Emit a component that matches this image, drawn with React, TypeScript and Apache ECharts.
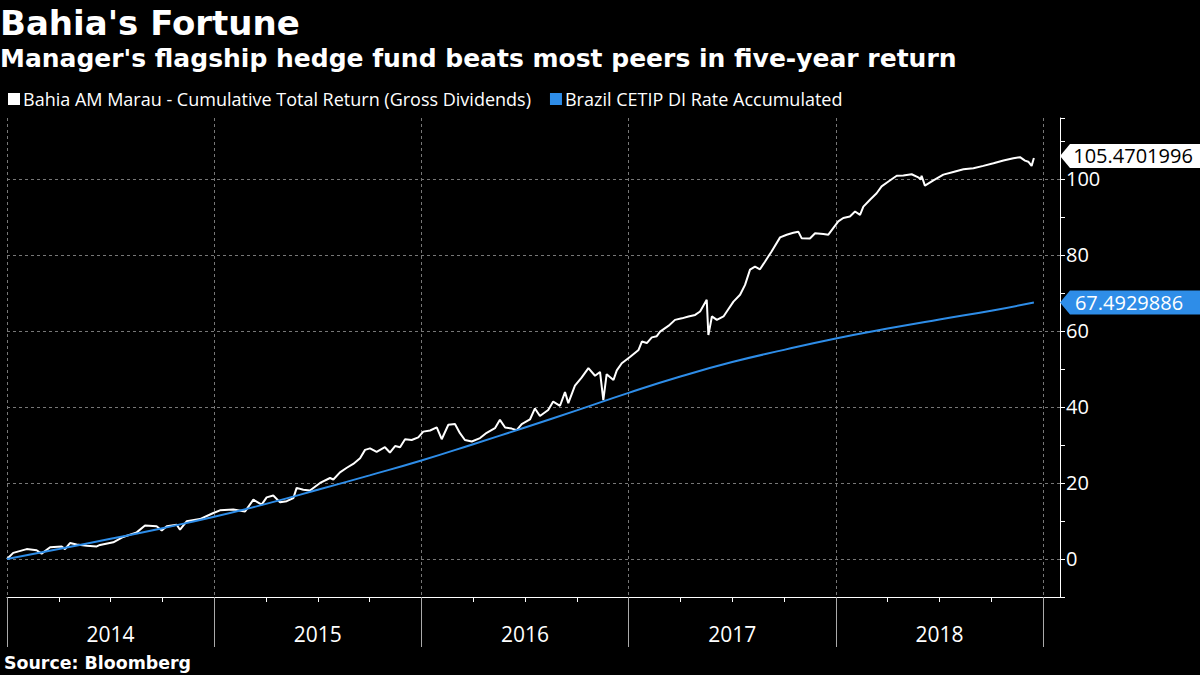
import React, { useEffect, useRef } from "react";
import * as echarts from "echarts";

// ---- data (decimal years) ----
const fundX = [
  2014.0, 2014.03, 2014.095, 2014.143, 2014.167, 2014.208, 2014.264, 2014.28, 2014.304, 2014.336,
  2014.385, 2014.433, 2014.449, 2014.513, 2014.561, 2014.626, 2014.666, 2014.722, 2014.747, 2014.771,
  2014.819, 2014.835, 2014.867, 2014.931, 2014.996, 2015.028, 2015.092, 2015.149, 2015.189, 2015.229,
  2015.253, 2015.285, 2015.318, 2015.35, 2015.382, 2015.398, 2015.43, 2015.462, 2015.511, 2015.559,
  2015.575, 2015.607, 2015.64, 2015.671, 2015.704, 2015.728, 2015.752, 2015.784, 2015.824, 2015.848,
  2015.873, 2015.897, 2015.921, 2015.953, 2015.985, 2016.009, 2016.042, 2016.074, 2016.098, 2016.13,
  2016.162, 2016.186, 2016.21, 2016.243, 2016.283, 2016.315, 2016.355, 2016.379, 2016.404, 2016.436,
  2016.46, 2016.484, 2016.524, 2016.548, 2016.572, 2016.612, 2016.636, 2016.669, 2016.693, 2016.709,
  2016.741, 2016.773, 2016.806, 2016.838, 2016.862, 2016.878, 2016.894, 2016.927, 2016.943, 2016.967,
  2017.008, 2017.048, 2017.064, 2017.088, 2017.112, 2017.136, 2017.152, 2017.192, 2017.224, 2017.257,
  2017.289, 2017.321, 2017.345, 2017.377, 2017.385, 2017.402, 2017.426, 2017.458, 2017.474, 2017.506,
  2017.538, 2017.562, 2017.586, 2017.61, 2017.634, 2017.658, 2017.69, 2017.731, 2017.763, 2017.795,
  2017.819, 2017.835, 2017.875, 2017.9, 2017.94, 2017.964, 2018.012, 2018.036, 2018.068, 2018.093,
  2018.117, 2018.133, 2018.165, 2018.197, 2018.221, 2018.254, 2018.294, 2018.326, 2018.366, 2018.398,
  2018.41, 2018.414, 2018.43, 2018.471, 2018.519, 2018.567, 2018.616, 2018.664, 2018.712, 2018.761,
  2018.809, 2018.857, 2018.889, 2018.913, 2018.929, 2018.945, 2018.956,
];
const fundY = [
  0.0, 1.6, 2.6, 2.3, 1.4, 3.1, 3.3, 2.6, 4.2, 3.8,
  3.5, 3.3, 3.7, 4.4, 5.8, 7.0, 8.8, 8.6, 7.5, 8.6,
  9.0, 7.7, 9.9, 10.5, 12.1, 12.8, 13.0, 12.5, 15.6, 14.3,
  16.2, 16.7, 14.9, 15.2, 16.0, 18.7, 18.2, 18.0, 20.0, 21.3,
  20.9, 22.8, 24.0, 25.0, 26.5, 28.7, 29.1, 28.2, 29.4, 28.0,
  29.7, 29.4, 31.5, 31.3, 32.0, 33.5, 33.8, 34.6, 31.5, 35.3,
  35.5, 33.1, 31.3, 30.9, 31.8, 33.2, 34.4, 36.6, 34.6, 34.3,
  33.9, 35.5, 36.7, 39.6, 37.6, 39.2, 41.4, 40.3, 43.9, 41.0,
  45.6, 47.7, 50.2, 48.2, 49.2, 41.8, 48.6, 47.1, 49.6, 51.5,
  53.2, 55.0, 57.2, 56.8, 58.3, 58.6, 59.8, 61.3, 62.9, 63.3,
  63.8, 64.2, 65.1, 68.2, 58.9, 63.8, 62.9, 63.8, 65.1, 67.7,
  69.5, 72.1, 76.1, 76.9, 76.2, 78.2, 80.9, 84.6, 85.3, 85.8,
  86.1, 84.4, 84.3, 85.7, 85.5, 85.3, 88.8, 89.7, 90.1, 91.4,
  90.5, 92.7, 94.5, 96.2, 98.0, 99.3, 100.8, 100.9, 101.2, 100.4,
  99.8, 100.8, 98.2, 99.6, 101.1, 101.8, 102.5, 102.8, 103.4, 104.1,
  104.8, 105.4, 105.7, 104.8, 104.5, 103.4, 105.47,
];
const cdiX = [
  2014.0, 2014.25, 2014.5, 2014.75, 2015.0, 2015.25, 2015.5, 2015.75, 2016.0, 2016.25,
  2016.5, 2016.75, 2017.0, 2017.25, 2017.5, 2017.75, 2018.0, 2018.25, 2018.5, 2018.75, 2018.956,
];
const cdiY = [
  0.0, 2.6, 5.3, 8.1, 11.1, 14.5, 18.2, 22.0, 25.9, 30.2,
  34.6, 39.1, 43.7, 48.0, 51.8, 55.0, 58.0, 60.6, 63.0, 65.3, 67.49,
];
const fundName = "Bahia AM Marau - Cumulative Total Return (Gross Dividends)";
const cdiName = "Brazil CETIP DI Rate Accumulated";
const fundLastLabel = "105.4701996";
const cdiLastLabel = "67.4929886";
const yearTicks = [2014, 2015, 2016, 2017, 2018, 2019];
const yearLabelPos = [2014.5, 2015.5, 2016.5, 2017.5, 2018.5];
const yLabelValues = [0, 20, 40, 60, 80, 100];

const X_MIN = 2014;
const X_MAX = 2019.082;
const Y_MIN = -10;
const Y_MAX = 116;

const WHITE = "#ffffff";
const BLUE = "#2e8de8";
const FONT = "Open Sans";
const BOLD_FONT = "DejaVu Sans";

const tagPath = "path://M0,12L10,0L150,0L150,24L10,24Z";

export default function App() {
  const ref = useRef<HTMLDivElement>(null);
  useEffect(() => {
    if (!ref.current) return;
    const chart = echarts.init(ref.current, undefined, { renderer: "svg" });
    const fundData = fundX.map((x, i) => [x, fundY[i]]);
    const cdiData = cdiX.map((x, i) => [x, cdiY[i]]);
    const fundLast = fundY[fundY.length - 1];
    const cdiLast = cdiY[cdiY.length - 1];
    const option: any = {
      animation: false,
      backgroundColor: "#000",
      title: [
        {
          text: "Bahia's Fortune",
          left: 0,
          top: 6,
          padding: 0,
          textStyle: { color: WHITE, fontSize: 34, fontWeight: "bold", fontFamily: BOLD_FONT },
        },
        {
          text: "Manager's flagship hedge fund beats most peers in five-year return",
          left: 0,
          top: 46,
          padding: 0,
          textStyle: { color: WHITE, fontSize: 25, fontWeight: "bold", fontFamily: BOLD_FONT },
        },
        {
          text: "Source: Bloomberg",
          left: 4,
          top: 654,
          padding: 0,
          textStyle: { color: WHITE, fontSize: 17.4, fontWeight: "bold", fontFamily: BOLD_FONT },
        },
      ],
      legend: {
        left: 8,
        top: 90,
        padding: 0,
        itemWidth: 12,
        itemHeight: 12,
        itemGap: 19,
        icon: "rect",
        textStyle: { color: WHITE, fontSize: 18, fontFamily: FONT, padding: [0, 0, 0, -2] },
        data: [fundName, cdiName],
      },
      grid: { left: 7, right: 140, top: 118, bottom: 78, containLabel: false },
      xAxis: {
        type: "value",
        min: X_MIN,
        max: X_MAX,
        interval: 1,
        axisLine: { show: true, onZero: false, lineStyle: { color: WHITE, width: 1 } },
        axisTick: { show: true, customValues: yearTicks, length: 50, lineStyle: { color: "#aaaaaa" } },
        minorTick: { show: true, splitNumber: 4, length: 5, lineStyle: { color: WHITE } },
        axisLabel: {
          customValues: yearLabelPos,
          formatter: (v: number) => String(Math.floor(v)),
          color: WHITE,
          fontSize: 21,
          fontFamily: FONT,
          margin: 26,
        },
        splitLine: { show: true, lineStyle: { color: "#777", type: [3, 3], width: 1 } },
      },
      yAxis: {
        type: "value",
        position: "right",
        min: Y_MIN,
        max: Y_MAX,
        interval: 10,
        axisLine: { show: true, onZero: false, lineStyle: { color: WHITE, width: 1 } },
        axisTick: { show: true, length: 5, lineStyle: { color: WHITE } },
        axisLabel: {
          color: WHITE,
          fontSize: 20,
          lineHeight: 18,
          fontFamily: FONT,
          margin: 6,
          formatter: (v: number) => (yLabelValues.includes(Math.round(v * 1000) / 1000) ? String(v) : ""),
        },
        splitLine: { show: false },
      },
      series: [
        {
          name: fundName,
          type: "line",
          data: fundData,
          showSymbol: false,
          symbol: "none",
          color: WHITE,
          lineStyle: { color: WHITE, width: 2 },
          z: 3,
          markPoint: {
            symbol: tagPath,
            symbolSize: [150, 24],
            symbolOffset: [75, -2],
            symbolKeepAspect: false,
            itemStyle: { color: WHITE },
            label: {
              show: true,
              position: "inside",
              formatter: fundLastLabel,
              color: "#000",
              fontSize: 20,
              lineHeight: 18,
              fontFamily: FONT,
              offset: [-2, -1],
            },
            data: [{ coord: [X_MAX, fundLast], value: fundLast }],
          },
        },
        {
          name: cdiName,
          type: "line",
          data: cdiData,
          showSymbol: false,
          symbol: "none",
          smooth: true,
          color: BLUE,
          lineStyle: { color: BLUE, width: 2 },
          z: 4,
          markLine: {
            silent: true,
            symbol: "none",
            label: { show: false },
            lineStyle: { color: "#777", type: [3, 3], width: 1 },
            data: yLabelValues.map((v) => ({ yAxis: v })),
            z: 1,
          },
          markPoint: {
            symbol: tagPath,
            symbolSize: [150, 24],
            symbolOffset: [75, 0],
            symbolKeepAspect: false,
            itemStyle: { color: BLUE },
            label: {
              show: true,
              position: "inside",
              formatter: cdiLastLabel,
              color: WHITE,
              fontSize: 20,
              lineHeight: 18,
              fontFamily: FONT,
              offset: [-6, 0],
            },
            data: [{ coord: [X_MAX, cdiLast], value: cdiLast }],
          },
        },
      ],
    };
    chart.setOption(option);
    return () => chart.dispose();
  }, []);
  return (
    <div
      ref={ref}
      style={{ position: "fixed", left: 0, top: 0, width: 1200, height: 675, background: "#000" }}
    />
  );
}
